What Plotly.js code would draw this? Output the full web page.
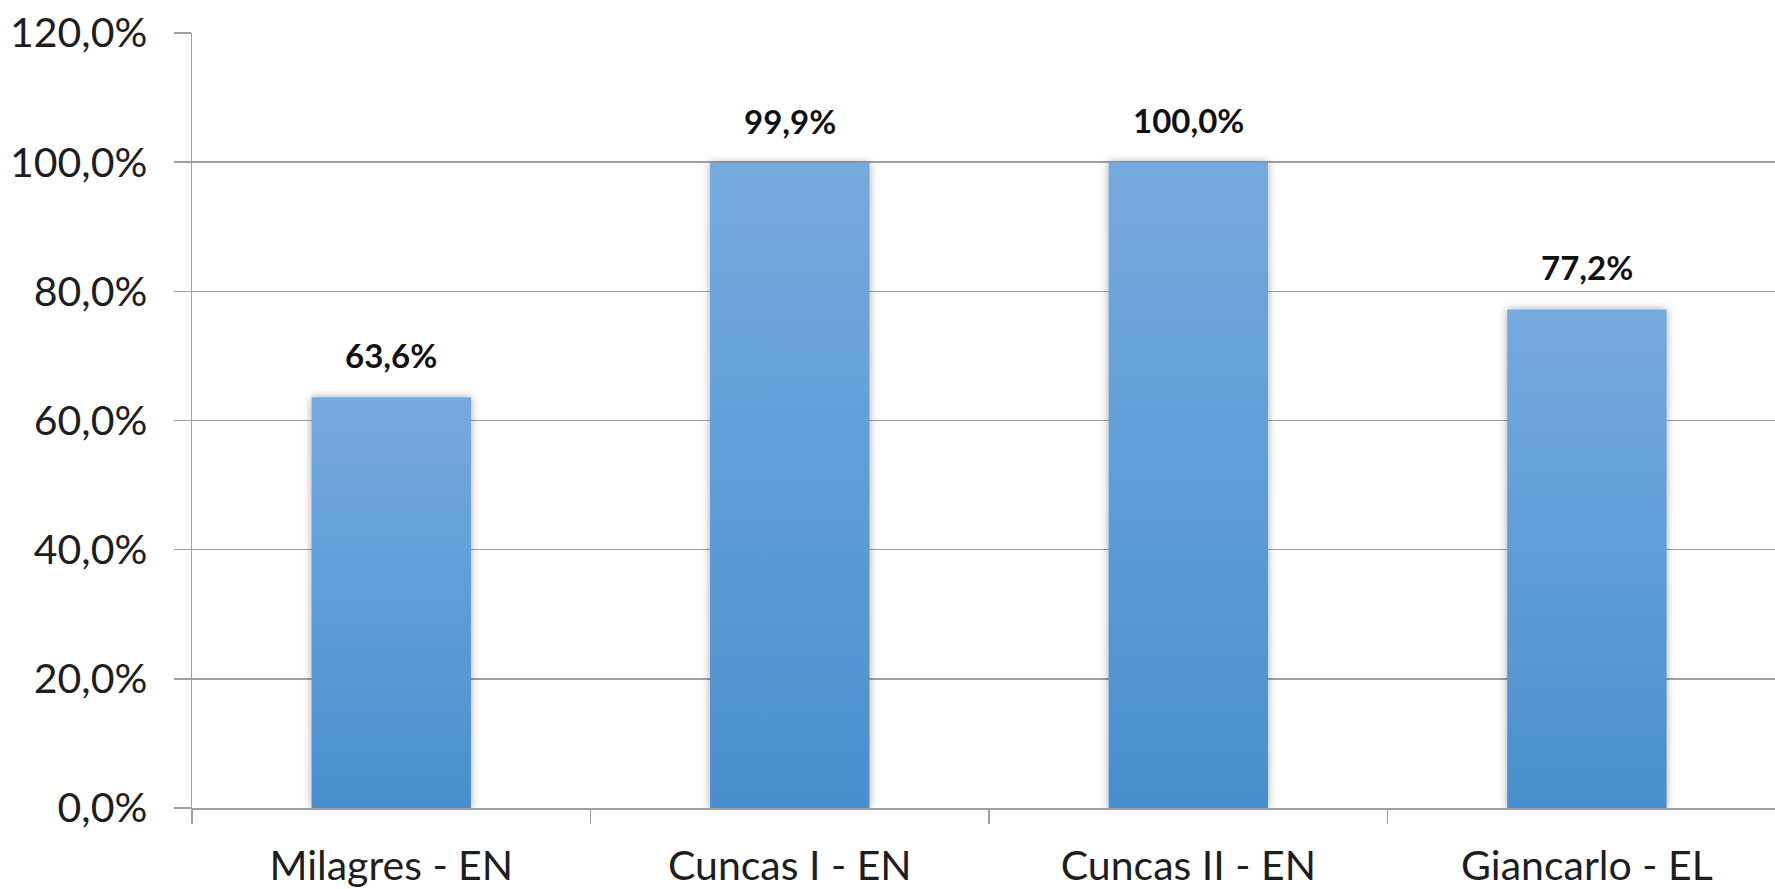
<!DOCTYPE html>
<html><head><meta charset="utf-8">
<script src="https://cdn.plot.ly/plotly-3.0.1.min.js"></script>
<style>html,body{margin:0;padding:0;background:#fff;}#chart{width:1775px;height:889px;}</style>
</head><body><div id="chart"></div>
<script>
const categories = ["Milagres - EN", "Cuncas I - EN", "Cuncas II - EN", "Giancarlo - EL"];
const values = [63.6, 99.9, 100.0, 77.2];
const valueLabels = ["63,6%", "99,9%", "100,0%", "77,2%"];
const tickVals = [0, 20, 40, 60, 80, 100, 120];
const tickText = ["0,0%", "20,0%", "40,0%", "60,0%", "80,0%", "100,0%", "120,0%"];

const FONT = "Lato, 'Open Sans', sans-serif";
const trace = {
  type: "bar", x: categories, y: values, width: 0.4,
  marker: {color: "#5d9cd6", line: {width: 0}},
  hoverinfo: "none"
};
const annotations = categories.map((c, i) => ({
  x: c, y: values[i], text: "<b>" + valueLabels[i] + "</b>",
  showarrow: false, yanchor: "bottom", yshift: 20,
  font: {family: FONT, size: 33, color: "#111"}
}));
const layout = {
  width: 1775, height: 889,
  margin: {l: 192, r: 0, t: 33, b: 81, pad: 0},
  paper_bgcolor: "#fff", plot_bgcolor: "#fff",
  showlegend: false,
  xaxis: {
    type: "category", range: [-0.5, 3.472],
    showline: true, linecolor: "#a0a0a0", linewidth: 1.5,
    ticks: "outside", tickson: "boundaries", ticklen: 14, tickcolor: "#a0a0a0", tickwidth: 1.5,
    ticklabelstandoff: 21,
    tickfont: {family: FONT, size: 41, color: "#1e1e1e"},
    showgrid: false, zeroline: false, fixedrange: true
  },
  yaxis: {
    range: [0, 120], tickvals: tickVals, ticktext: tickText,
    showline: true, linecolor: "#a0a0a0", linewidth: 1.5,
    ticks: "outside", ticklen: 17, tickcolor: "#a0a0a0", tickwidth: 1.5,
    ticklabelstandoff: 18,
    showgrid: true, gridcolor: "#a0a0a0", gridwidth: 1.5,
    zeroline: false,
    tickfont: {family: FONT, size: 41, color: "#1e1e1e"}, fixedrange: true
  },
  annotations: annotations
};
Plotly.newPlot("chart", [trace], layout, {displayModeBar: false, staticPlot: true}).then(gd => {
  const svg = gd.querySelector("svg.main-svg");
  const ns = "http://www.w3.org/2000/svg";
  let defs = svg.querySelector("defs");
  if (!defs) { defs = document.createElementNS(ns, "defs"); svg.insertBefore(defs, svg.firstChild); }
  const g = document.createElementNS(ns, "linearGradient");
  g.setAttribute("id", "barGrad"); g.setAttribute("x1", "0"); g.setAttribute("y1", "0");
  g.setAttribute("x2", "0"); g.setAttribute("y2", "1");
  [["0", "#76aadd"], ["0.5", "#5e9dd8"], ["1", "#4a8ecd"]].forEach(([o, c]) => {
    const s = document.createElementNS(ns, "stop");
    s.setAttribute("offset", o); s.setAttribute("stop-color", c); g.appendChild(s);
  });
  defs.appendChild(g);
  const f = document.createElementNS(ns, "filter");
  f.setAttribute("id", "barShadow"); f.setAttribute("x", "-20%"); f.setAttribute("width", "140%");
  const ds = document.createElementNS(ns, "feDropShadow");
  ds.setAttribute("dx", "0"); ds.setAttribute("dy", "0"); ds.setAttribute("stdDeviation", "4");
  ds.setAttribute("flood-color", "#000"); ds.setAttribute("flood-opacity", "0.35");
  f.appendChild(ds); defs.appendChild(f);
  gd.querySelectorAll(".bars .point path").forEach(p => {
    p.style.fill = "url(#barGrad)";
    p.style.filter = "url(#barShadow)";
  });
});
</script></body></html>
